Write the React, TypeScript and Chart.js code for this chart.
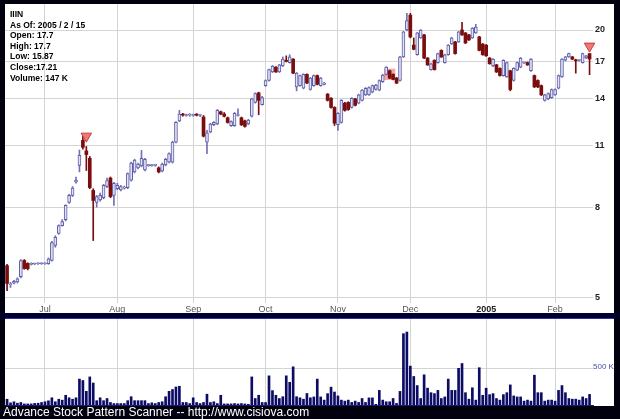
import React, { useEffect, useRef } from "react";
import { Chart, registerables } from "chart.js";
Chart.register(...registerables);

const opens = [
  5.91,5.35,5.40,5.43,5.58,6.07,5.98,5.95,5.96,5.97,
  5.97,5.97,5.97,6.07,6.56,6.98,7.27,7.50,8.20,8.50,
  9.10,9.93,11.30,10.70,10.30,8.72,8.20,8.30,8.40,8.90,
  9.30,8.50,8.80,8.75,8.82,8.85,9.20,9.60,9.80,9.90,
  9.70,9.92,9.92,9.93,9.80,9.65,9.95,10.10,10.10,11.20,
  12.50,12.90,12.85,12.88,12.86,12.90,12.85,12.75,11.20,11.80,
  12.25,12.30,13.10,12.95,12.70,12.20,12.20,12.85,12.70,12.50,
  12.30,12.80,13.75,14.45,13.60,15.00,15.40,16.10,16.50,16.10,
  16.60,17.10,16.90,17.20,14.90,15.00,14.80,15.90,14.70,15.00,
  15.80,15.00,15.10,14.35,14.05,13.40,12.25,12.40,13.70,13.75,
  13.40,14.00,13.70,13.90,14.30,14.30,14.50,14.70,14.65,15.30,
  15.90,16.20,15.90,15.60,15.40,17.40,20.00,21.60,18.50,17.60,
  19.20,19.50,17.30,16.30,17.10,16.90,18.00,16.90,17.60,18.60,
  18.80,18.80,20.00,19.70,19.50,19.20,19.70,19.30,18.60,18.50,
  17.30,16.60,16.70,16.40,15.80,15.70,16.20,15.40,16.25,16.50,
  16.88,16.90,16.20,15.80,15.40,15.00,13.90,14.00,14.10,14.30,
  14.80,15.70,17.10,17.40,17.40,17.10,17.08,16.90,17.30,17.70,
];
const highs = [
  5.95,5.42,5.48,5.55,6.10,6.10,6.00,6.00,5.99,6.00,
  6.00,6.00,6.15,6.70,6.90,7.30,7.50,8.10,8.55,8.90,
  9.35,10.75,11.60,10.95,10.40,8.80,8.50,8.60,9.00,9.30,
  9.35,9.10,9.05,8.95,8.92,9.55,10.10,10.25,10.05,10.73,
  10.30,9.98,9.98,9.98,9.85,10.05,10.30,10.60,11.25,12.45,
  13.20,13.00,12.95,12.98,12.95,12.98,12.92,12.85,11.90,12.35,
  12.45,13.25,13.15,13.05,12.75,12.50,13.05,13.30,12.75,12.55,
  12.60,14.05,14.45,14.50,14.20,15.45,16.35,16.65,16.55,16.75,
  17.40,17.50,17.60,17.25,16.05,15.85,15.95,15.95,15.65,15.85,
  15.85,15.65,15.25,14.40,14.10,13.45,13.05,13.95,13.75,13.80,
  14.10,14.05,14.35,14.70,14.85,14.90,15.05,15.10,15.45,15.90,
  16.55,16.25,15.95,15.65,17.45,19.85,21.80,21.80,19.20,19.75,
  20.05,19.55,17.35,16.85,17.15,17.75,18.05,17.65,18.55,19.25,
  18.85,19.85,20.80,19.75,19.55,20.25,20.60,19.35,18.65,18.55,
  17.35,17.25,16.75,16.45,17.15,16.95,16.25,16.45,16.95,17.35,
  16.95,16.95,17.25,15.85,15.45,15.05,14.35,14.45,14.75,14.75,
  15.85,17.25,17.45,17.75,17.45,17.20,17.15,17.75,17.55,17.70,
];
const lows = [
  5.19,5.28,5.38,5.40,5.55,5.80,5.78,5.93,5.94,5.95,
  5.95,5.95,5.95,6.05,6.50,6.95,7.25,7.45,8.15,8.45,
  9.05,9.60,10.80,9.67,8.80,6.73,8.00,8.25,8.35,8.85,
  8.40,8.07,8.75,8.70,8.78,8.80,9.15,9.55,9.75,9.85,
  9.65,9.88,9.88,9.88,9.55,9.60,9.90,10.05,10.05,11.15,
  12.45,12.80,12.80,12.80,12.80,12.82,12.78,11.50,10.55,11.75,
  12.20,12.25,12.90,12.75,12.35,12.15,12.15,12.80,12.20,12.10,
  12.25,12.75,13.70,12.90,13.55,14.95,15.35,16.05,16.05,16.05,
  16.55,16.95,16.85,15.95,14.60,14.95,14.75,15.15,14.65,14.95,
  15.05,14.95,15.05,13.85,13.35,12.20,11.90,12.35,13.15,13.20,
  13.35,13.50,13.65,13.85,14.25,14.25,14.45,14.65,14.60,15.25,
  15.85,15.55,15.45,15.15,15.35,17.35,19.90,19.20,18.05,17.55,
  19.15,17.25,16.65,16.25,16.25,16.85,17.35,16.85,17.55,18.55,
  17.65,18.75,19.45,18.65,18.95,19.15,19.65,17.95,17.55,17.45,
  16.75,16.55,16.05,15.75,15.75,15.65,14.60,15.35,16.20,16.45,
  16.80,16.65,16.15,14.85,14.85,14.25,13.85,13.95,14.05,14.25,
  14.75,15.65,17.05,17.35,17.15,16.00,17.02,16.85,17.25,15.87,
];
const closes = [
  5.39,5.38,5.45,5.52,6.07,5.82,5.82,5.97,5.97,5.98,
  5.98,5.98,6.12,6.66,6.84,7.27,7.42,8.07,8.50,8.83,
  9.20,10.46,10.90,10.50,8.85,8.28,8.45,8.50,8.95,9.18,
  8.45,9.05,8.95,8.90,8.88,9.52,10.05,10.20,10.00,10.30,
  10.25,9.94,9.93,9.94,9.60,10.00,10.25,10.55,11.20,12.40,
  12.95,12.88,12.87,12.90,12.88,12.87,12.86,11.55,11.75,12.30,
  12.40,13.20,12.95,12.80,12.40,12.45,13.00,12.88,12.25,12.15,
  12.55,14.00,14.40,13.90,14.10,15.40,16.30,16.60,16.10,16.70,
  17.20,17.00,17.40,16.00,16.00,15.80,15.90,15.20,15.60,15.80,
  15.10,15.60,15.20,13.90,13.40,12.35,13.00,13.90,13.20,13.25,
  14.05,13.55,14.30,14.65,14.80,14.85,15.00,15.05,15.40,15.85,
  16.50,15.60,15.50,15.20,17.40,19.80,21.00,19.30,18.10,19.70,
  20.00,17.30,16.70,16.80,16.30,17.70,17.40,17.60,18.50,19.20,
  17.70,19.80,19.50,18.70,19.00,20.20,20.30,18.00,17.60,17.50,
  16.80,17.20,16.10,15.80,17.10,16.90,14.70,16.40,16.90,17.30,
  16.90,16.70,17.20,14.90,14.90,14.30,14.30,14.40,14.70,14.70,
  15.80,17.20,17.40,17.70,17.20,17.05,17.10,17.70,17.50,17.21,
];
// volume in thousands of shares
const volumes = [
  80,30,45,25,35,15,15,15,22,25,
  35,45,58,100,45,80,67,135,100,80,
  100,360,340,190,390,305,60,100,60,90,
  35,20,20,20,20,60,115,60,60,60,
  60,20,30,20,35,45,115,190,215,250,
  260,35,35,20,100,35,20,35,150,35,
  45,20,135,15,15,15,20,15,20,15,
  10,390,90,135,35,35,405,200,135,90,
  115,405,315,530,115,100,80,160,100,112,
  360,112,68,158,248,180,126,68,54,68,
  36,54,36,90,36,99,99,9,203,68,
  45,45,90,22,189,990,1013,540,396,270,
  90,419,234,171,158,203,90,112,360,203,
  203,509,576,171,81,239,68,518,135,234,
  144,158,90,68,144,171,279,126,112,112,
  54,68,54,414,171,171,54,68,68,54,
  203,270,171,90,81,81,68,112,90,147,
];
const monthIdx = [11, 32, 54, 75, 96, 117, 139, 159];
const monthLabels = ["Jul", "Aug", "Sep", "Oct", "Nov", "Dec", "2005", "Feb"];
const priceTicks = [5, 8, 11, 14, 17, 20];
const volumeTicks = [500];
const markerIdx = [23, 169];
const markerPrice = [11.55, 18.4];
const boxIdx = [111];
const boxPrice = [15.9];
const infoLines = ["IIIN", "As Of: 2005 / 2 / 15", "Open: 17.7", "High: 17.7", "Low: 15.87", "Close:17.21", "Volume: 147 K"];
const footer = "Advance Stock Pattern Scanner -- http://www.cisiova.com";

const FONT = "'Liberation Sans', Arial, sans-serif";
const GRID = "#d4d4d4";
const UP_FILL = "#e2e2f4";
const UP_LINE = "#5c5ca8";
const DOWN = "#7a0e0e";
const X_MIN = -0.6;
const X_MAX = 170;

const noPad = (s: any) => {
  s.paddingTop = 0;
  s.paddingBottom = 0;
  s.paddingLeft = 0;
  s.paddingRight = 0;
};

export default function App() {
  const priceRef = useRef<HTMLCanvasElement>(null);
  const volRef = useRef<HTMLCanvasElement>(null);

  useEffect(() => {
    const idx = closes.map((_, i) => i);
    const isUp = idx.map((i) => closes[i] >= opens[i]);
    const monthTicks = (s: any) => {
      s.ticks = monthIdx.map((v) => ({ value: v }));
    };

    const price = new Chart(priceRef.current!, {
      type: "bar",
      data: {
        datasets: [
          {
            type: "scatter",
            data: markerIdx.map((x, k) => ({ x, y: markerPrice[k] })),
            pointStyle: "triangle",
            rotation: 180,
            radius: 6,
            backgroundColor: "#f27878",
            borderColor: "#c83c3c",
            borderWidth: 1,
            order: 0,
            clip: false,
          } as any,
          {
            data: idx.map((i) => ({ x: i, y: [opens[i], closes[i]] })),
            backgroundColor: isUp.map((u) => (u ? UP_FILL : DOWN)),
            borderColor: isUp.map((u) => (u ? UP_LINE : DOWN)),
            borderWidth: isUp.map((u) => (u ? 1 : 0)),
            borderSkipped: false,
            barThickness: 3,
            minBarLength: 1,
            grouped: false,
            order: 1,
          } as any,
          {
            data: idx.map((i) => ({ x: i, y: [lows[i], highs[i]] })),
            backgroundColor: isUp.map((u) => (u ? "#7070b2" : DOWN)),
            borderWidth: 0,
            barThickness: 1,
            grouped: false,
            order: 2,
          } as any,
          {
            type: "scatter",
            data: boxIdx.map((x, k) => ({ x, y: boxPrice[k] })),
            pointStyle: "rect",
            radius: 8,
            backgroundColor: "rgba(238,140,140,0.75)",
            borderWidth: 0,
            order: 3,
          } as any,
        ],
      },
      options: {
        responsive: false,
        animation: false,
        devicePixelRatio: 1,
        events: [],
        layout: { padding: 0, autoPadding: false },
        plugins: { legend: { display: false }, tooltip: { enabled: false } },
        scales: {
          x: {
            type: "linear",
            min: X_MIN,
            max: X_MAX,
            offset: false,
            afterBuildTicks: monthTicks,
            afterFit: (s: any) => {
              s.height = 10;
              noPad(s);
            },
            grid: { color: GRID, drawTicks: false, offset: false },
            border: { display: false },
            ticks: {
              autoSkip: false,
              maxRotation: 0,
              padding: 1,
              callback: (_v: any, i: number) => monthLabels[i],
              color: (c: any) => (c.index === 6 ? "#222" : "#555"),
              font: (c: any) => ({ family: FONT, size: 9, weight: c.index === 6 ? "bold" : "normal" }),
            },
          },
          y: {
            type: "logarithmic",
            position: "right",
            min: 4.872,
            max: 22.88,
            afterBuildTicks: (s: any) => {
              s.ticks = priceTicks.map((v) => ({ value: v }));
            },
            afterFit: (s: any) => {
              s.width = 21;
              noPad(s);
            },
            grid: { color: GRID, drawTicks: false },
            border: { display: false },
            ticks: {
              padding: 2,
              color: "#222",
              font: { family: FONT, size: 9, weight: "bold" },
              callback: (v: any) => String(v),
            },
          },
        },
      } as any,
    });

    const vol = new Chart(volRef.current!, {
      type: "bar",
      data: {
        datasets: [
          {
            data: idx.map((i) => ({ x: i, y: volumes[i] })),
            backgroundColor: "#0c0c66",
            borderWidth: 0,
            barThickness: 2,
            grouped: false,
          } as any,
        ],
      },
      options: {
        responsive: false,
        animation: false,
        devicePixelRatio: 1,
        events: [],
        layout: { padding: 0, autoPadding: false },
        plugins: { legend: { display: false }, tooltip: { enabled: false } },
        scales: {
          x: {
            type: "linear",
            min: X_MIN,
            max: X_MAX,
            offset: false,
            afterBuildTicks: monthTicks,
            afterFit: (s: any) => {
              s.height = 1;
              noPad(s);
            },
            grid: { color: GRID, drawTicks: false, offset: false },
            border: { display: true, color: "#1a1a70", width: 1 },
            ticks: { display: false },
          },
          y: {
            type: "linear",
            position: "right",
            min: 0,
            max: 1194,
            afterBuildTicks: (s: any) => {
              s.ticks = volumeTicks.map((v) => ({ value: v }));
            },
            afterFit: (s: any) => {
              s.width = 21;
              noPad(s);
            },
            grid: { color: GRID, drawTicks: false },
            border: { display: false },
            ticks: {
              padding: 0,
              labelOffset: -2,
              color: "#4c4ca6",
              font: { family: FONT, size: 8 },
              callback: (v: any) => `${v} K`,
            },
          },
        },
      } as any,
    });

    return () => {
      price.destroy();
      vol.destroy();
    };
  }, []);

  return (
    <div
      style={{
        position: "fixed",
        left: 0,
        top: 0,
        width: 620,
        height: 419,
        background: "#00000f",
        overflow: "hidden",
        fontFamily: FONT,
      }}
    >
      <div style={{ position: "absolute", left: 5, top: 4, width: 609, height: 309, background: "#fff" }}>
        <canvas ref={priceRef} width={609} height={309} style={{ display: "block" }} />
      </div>
      <div style={{ position: "absolute", left: 5, top: 4, padding: "5px 0 0 5px", fontSize: 8.5, fontWeight: "bold", lineHeight: "10.6px", color: "#000" }}>
        {infoLines.map((t) => (
          <div key={t}>{t}</div>
        ))}
      </div>
      <div style={{ position: "absolute", left: 0, top: 313, width: 620, height: 5, background: "#000030" }} />
      <div style={{ position: "absolute", left: 5, top: 318, width: 609, height: 1, background: "#2e2ea8" }} />
      <div style={{ position: "absolute", left: 5, top: 319, width: 609, height: 87, background: "#fff" }}>
        <canvas ref={volRef} width={609} height={87} style={{ display: "block" }} />
      </div>
      <div style={{ position: "absolute", left: 3, top: 406, fontSize: 12, lineHeight: "13px", color: "#fff", whiteSpace: "nowrap" }}>
        {footer}
      </div>
    </div>
  );
}
